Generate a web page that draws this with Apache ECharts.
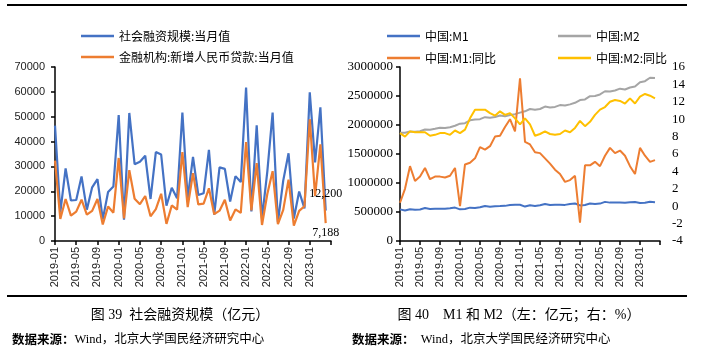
<!DOCTYPE html>
<html>
<head>
<meta charset="utf-8">
<script src="https://cdn.jsdelivr.net/npm/echarts@6/dist/echarts.min.js"></script>
<style>
  html, body { margin: 0; padding: 0; background: #fff; }
  #chart { width: 703px; height: 353px; }
</style>
</head>
<body>
<div id="chart"></div>
<script>
// 月份 2019-01 ~ 2023-05（最后一个月没有数据，只留刻度）
const months = [];
for (let y = 2019; y <= 2023; y++) {
    for (let m = 1; m <= 12; m++) {
        if (y === 2023 && m > 5) break;
        months.push(y + '-' + (m < 10 ? '0' + m : m));
    }
}

// 图39 社会融资规模（亿元）
const tsfMonthly = [
    46400, 11500, 29200, 16300, 16500, 26000, 12600, 21600, 24900, 8700, 19700, 21900,
    50700, 8600, 51500, 30900, 31900, 34300, 16900, 35800, 34800, 14200, 21400, 17200,
    51700, 17100, 33800, 18500, 19200, 36700, 10600, 29600, 29000, 15900, 26100, 23700,
    61700, 11900, 46500, 9102, 27900, 51700, 7561, 24300, 35300, 9079, 19900, 13100,
    59800, 31600, 53800, 12200
];
const newLoans = [
    32300, 8858, 16900, 10200, 11800, 16600, 10600, 12100, 16900, 6613, 13900, 11400,
    33400, 9057, 28500, 17000, 14800, 18100, 9927, 12800, 19000, 6898, 14300, 12600,
    35800, 13600, 27300, 14700, 15000, 21200, 10800, 12200, 16600, 8262, 12700, 11300,
    39800, 12300, 31300, 6454, 18900, 28100, 6790, 12500, 24700, 6152, 12100, 14000,
    49000, 18100, 38900, 7188
];

// 图40 M1 和 M2（左：亿元；右：%）
const m1 = [
    545600, 527200, 547600, 540600, 544000, 567700, 553000, 555200, 557100, 555200, 563400, 576000,
    545500, 552700, 575100, 570200, 581100, 604300, 591200, 599600, 602300, 605800, 619600, 625600,
    625600, 593500, 616100, 605400, 616800, 637500, 620400, 624500, 624600, 622700, 637500, 647400,
    613800, 621600, 645100, 636300, 645100, 674400, 661800, 664600, 664500, 658900, 667000, 671700,
    655200, 657900, 678100, 669800
];
const m2 = [
    1865900, 1867400, 1889400, 1884700, 1891500, 1921400, 1919400, 1934500, 1952300, 1946600, 1962100, 1986500,
    2023100, 2030800, 2080900, 2093500, 2100200, 2134900, 2125500, 2136800, 2164100, 2149700, 2172100, 2186800,
    2213000, 2236000, 2276000, 2262100, 2275500, 2317800, 2302200, 2312300, 2342800, 2336200, 2356000, 2382900,
    2431000, 2441500, 2497700, 2499700, 2527000, 2581500, 2578100, 2595100, 2626600, 2612900, 2647100, 2664300,
    2738100, 2755300, 2814600, 2808500
];
const m1Yoy = [
    0.4, 2.0, 4.6, 2.9, 3.4, 4.4, 3.1, 3.4, 3.4, 3.3, 3.5, 4.4,
    0.0, 4.8, 5.0, 5.5, 6.8, 6.5, 6.9, 8.0, 8.1, 9.1, 10.0, 8.6,
    14.7, 7.4, 7.1, 6.2, 6.1, 5.5, 4.9, 4.2, 3.7, 2.8, 3.0, 3.5,
    -1.9, 4.7, 4.7, 5.1, 4.6, 5.8, 6.7, 6.1, 6.4, 5.8, 4.6, 3.7,
    6.7, 5.8, 5.1, 5.3
];
const m2Yoy = [
    8.4, 8.0, 8.6, 8.5, 8.5, 8.5, 8.1, 8.2, 8.4, 8.4, 8.2, 8.7,
    8.4, 8.8, 10.1, 11.1, 11.1, 11.1, 10.7, 10.4, 10.9, 10.5, 10.7, 10.1,
    9.4, 10.1, 9.4, 8.1, 8.3, 8.6, 8.3, 8.2, 8.3, 8.7, 8.5, 9.0,
    9.8, 9.2, 9.7, 10.5, 11.1, 11.4, 12.0, 12.2, 12.1, 11.8, 12.4, 11.8,
    12.6, 12.9, 12.7, 12.4
];

const BLUE = '#4472C4';
const ORANGE = '#ED7D31';
const GRAY = '#A5A5A5';
const YELLOW = '#FFC000';
const CJK = '"Noto Sans CJK SC", sans-serif';
const SERIF = '"Liberation Serif", "Noto Sans CJK SC", serif';

// 最后一个点的数值标注
function lastPoint(arr, position, distance) {
    const i = arr.length - 1;
    return {
        silent: true,
        symbol: 'circle',
        symbolSize: 1,
        itemStyle: { color: 'rgba(0,0,0,0)' },
        label: {
            show: true,
            position: position,
            distance: distance,
            fontFamily: SERIF,
            fontSize: 12,
            color: '#000',
            formatter: () => arr[i].toLocaleString('en-US')
        },
        data: [{ coord: [months[i], arr[i]] }]
    };
}

function xAxisOf(gridIndex) {
    return {
        type: 'category',
        gridIndex: gridIndex,
        data: months,
        boundaryGap: false,
        axisLine: { lineStyle: { color: '#000', width: 1.5 } },
        axisTick: {
            interval: (i) => i % 4 === 0,
            length: 4,
            lineStyle: { color: '#000', width: 1.5 }
        },
        axisLabel: {
            interval: (i) => i % 4 === 0 && i < 52,
            rotate: 90,
            margin: 6,
            fontFamily: 'Liberation Sans',
            fontSize: 11,
            color: '#222'
        },
        splitLine: { show: false }
    };
}

const plain = (v) => String(v);
const legendBase = {
    orient: 'vertical',
    icon: 'rect',
    itemWidth: 33,
    itemHeight: 2.5,
    textStyle: { fontFamily: CJK, fontSize: 12, color: '#000', lineHeight: 14 }
};

const chart = echarts.init(document.getElementById('chart'));
chart.setOption({
    animation: false,
    backgroundColor: '#fff',
    grid: [
        { left: 55, top: 67, width: 276, height: 174 },
        { left: 400, top: 67, width: 260, height: 174 }
    ],
    legend: [
        Object.assign({}, legendBase, {
            left: 76, top: 24, itemGap: 7,
            data: ['社会融资规模:当月值', '金融机构:新增人民币贷款:当月值']
        }),
        Object.assign({}, legendBase, {
            left: 382, top: 24, itemGap: 8,
            data: ['中国:M1', '中国:M1:同比']
        }),
        Object.assign({}, legendBase, {
            left: 553, top: 24, itemGap: 8,
            data: ['中国:M2', '中国:M2:同比']
        })
    ],
    title: [
        {
            text: '图 39  社会融资规模（亿元）',
            left: 175, top: 303, textAlign: 'center',
            textStyle: { fontFamily: SERIF, fontSize: 14, fontWeight: 'normal', color: '#000' }
        },
        {
            text: '图 40    M1 和 M2（左：亿元；右：%）',
            left: 514, top: 303, textAlign: 'center',
            textStyle: { fontFamily: SERIF, fontSize: 14, fontWeight: 'normal', color: '#000' }
        },
        {
            text: '{b|数据来源：}Wind，北京大学国民经济研究中心',
            left: 7, top: 328,
            textStyle: {
                fontFamily: SERIF, fontSize: 12.5, fontWeight: 'normal', color: '#000',
                rich: { b: { fontFamily: CJK, fontSize: 12.5, fontWeight: 'bold', color: '#000' } }
            }
        },
        {
            text: '{b|数据来源：}  Wind，北京大学国民经济研究中心',
            left: 347, top: 328,
            textStyle: {
                fontFamily: SERIF, fontSize: 12.5, fontWeight: 'normal', color: '#000',
                rich: { b: { fontFamily: CJK, fontSize: 12.5, fontWeight: 'bold', color: '#000' } }
            }
        }
    ],
    graphic: [
        { type: 'line', shape: { x1: 7, y1: 5, x2: 687, y2: 5 }, style: { stroke: '#000', lineWidth: 2 } },
        { type: 'line', shape: { x1: 7, y1: 296, x2: 687, y2: 296 }, style: { stroke: '#000', lineWidth: 2 } }
    ],
    xAxis: [xAxisOf(0), xAxisOf(1)],
    yAxis: [
        {
            type: 'value', gridIndex: 0,
            min: 0, max: 70000, interval: 10000,
            axisLine: { show: true, lineStyle: { color: '#000', width: 1.5 } },
            axisTick: { show: true, length: 4, lineStyle: { color: '#000', width: 1.5 } },
            axisLabel: { margin: 10, formatter: plain, fontFamily: 'Liberation Sans', fontSize: 11, color: '#222' },
            splitLine: { show: false }
        },
        {
            type: 'value', gridIndex: 1,
            min: 0, max: 3000000, interval: 500000,
            axisLine: { show: true, lineStyle: { color: '#000', width: 1.5 } },
            axisTick: { show: true, length: 4, lineStyle: { color: '#000', width: 1.5 } },
            axisLabel: { margin: 7, formatter: plain, fontFamily: 'Liberation Serif', fontSize: 13, color: '#000' },
            splitLine: { show: false }
        },
        {
            type: 'value', gridIndex: 1, position: 'right',
            min: -4, max: 16, interval: 2,
            axisLine: { show: false },
            axisTick: { show: false },
            axisLabel: { margin: 12, formatter: plain, fontFamily: 'Liberation Serif', fontSize: 13, color: '#000' },
            splitLine: { show: false }
        }
    ],
    series: [
        {
            name: '社会融资规模:当月值', type: 'line', xAxisIndex: 0, yAxisIndex: 0,
            symbol: 'none', color: BLUE, lineStyle: { width: 2.2 },
            data: tsfMonthly,
            markPoint: lastPoint(tsfMonthly, 'top', 10)
        },
        {
            name: '金融机构:新增人民币贷款:当月值', type: 'line', xAxisIndex: 0, yAxisIndex: 0,
            symbol: 'none', color: ORANGE, lineStyle: { width: 2.2 },
            data: newLoans,
            markPoint: lastPoint(newLoans, 'bottom', 3)
        },
        {
            name: '中国:M1', type: 'line', xAxisIndex: 1, yAxisIndex: 1,
            symbol: 'none', color: BLUE, lineStyle: { width: 2 },
            data: m1
        },
        {
            name: '中国:M2', type: 'line', xAxisIndex: 1, yAxisIndex: 1,
            symbol: 'none', color: GRAY, lineStyle: { width: 2 },
            data: m2
        },
        {
            name: '中国:M1:同比', type: 'line', xAxisIndex: 1, yAxisIndex: 2,
            symbol: 'none', color: ORANGE, lineStyle: { width: 2 },
            data: m1Yoy
        },
        {
            name: '中国:M2:同比', type: 'line', xAxisIndex: 1, yAxisIndex: 2,
            symbol: 'none', color: YELLOW, lineStyle: { width: 2 },
            data: m2Yoy
        }
    ]
});
</script>
</body>
</html>
